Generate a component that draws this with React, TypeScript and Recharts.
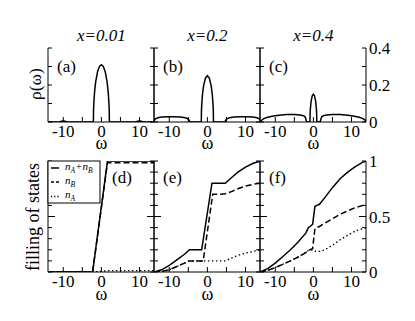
import React from 'react';
import { LineChart, Line, XAxis, YAxis } from 'recharts';

// top row: density of states rho(omega)
const omegaA = [-14, -11, -10.5, -10, -9.5, -9, -2.1, -2.05, -2, -1.8, -1.5, -1, -0.5, 0, 0.5, 1, 1.5, 1.8, 2, 2.05, 2.1, 9, 9.5, 10, 10.5, 11, 14];
const rhoA = [0, 0, 0.004, 0.005, 0.004, 0, 0, 0.067, 0.095, 0.16, 0.217, 0.272, 0.301, 0.31, 0.301, 0.272, 0.217, 0.16, 0.095, 0.067, 0, 0, 0.004, 0.005, 0.004, 0, 0];

const omegaB = [-14, -13.9, -13.6, -13, -12, -10, -9, -7, -5.8, -5.2, -4.8, -4.6, -1.6, -1.55, -1.5, -1.3, -1, -0.5, 0, 0.5, 1, 1.3, 1.5, 1.55, 1.6, 4.6, 4.8, 5.2, 5.8, 7, 9, 10, 12, 13, 13.6, 13.9, 14];
const rhoB = [0, 0.01, 0.017, 0.023, 0.027, 0.029, 0.029, 0.027, 0.023, 0.018, 0.01, 0, 0, 0.062, 0.087, 0.146, 0.195, 0.237, 0.25, 0.237, 0.195, 0.146, 0.087, 0.062, 0, 0, 0.01, 0.018, 0.023, 0.027, 0.029, 0.029, 0.027, 0.023, 0.017, 0.01, 0];

const omegaC = [-14, -13.7, -13, -12, -10.5, -9, -7, -5, -3.5, -2.6, -2.2, -1.95, -1.8, -0.9, -0.85, -0.8, -0.6, -0.3, 0, 0.3, 0.6, 0.8, 0.85, 0.9, 1.8, 1.95, 2.2, 2.6, 3.5, 5, 7, 9, 10.5, 12, 13, 13.7, 14];
const rhoC = [0, 0.008, 0.018, 0.026, 0.033, 0.037, 0.04, 0.04, 0.038, 0.034, 0.028, 0.015, 0, 0, 0.049, 0.069, 0.112, 0.141, 0.15, 0.141, 0.112, 0.069, 0.049, 0, 0, 0.015, 0.028, 0.034, 0.038, 0.04, 0.04, 0.037, 0.033, 0.026, 0.018, 0.008, 0];

// bottom row: filling of states
const omegaD = [-14, -2.3, 1.6, 14];
const totD = [0, 0, 1, 1];
const nbD = [0, 0, 0.985, 0.985];
const naD = [0, 0, 0.012, 0.012];

const omegaE = [-14, -12, -10, -8, -6, -4.7, -3, -1.5, -1.1, 1.2, 1.4, 3, 4.7, 6, 8, 10, 12, 14];
const totE = [0, 0.02, 0.06, 0.11, 0.16, 0.2, 0.2, 0.2, 0.29, 0.8, 0.8, 0.8, 0.8, 0.84, 0.9, 0.945, 0.98, 1];
const nbE = [0, 0.005, 0.02, 0.05, 0.08, 0.1, 0.1, 0.1, 0.1, 0.652, 0.7, 0.7, 0.705, 0.72, 0.75, 0.775, 0.79, 0.8];
const naE = [0, 0.005, 0.02, 0.05, 0.08, 0.1, 0.1, 0.1, 0.1, 0.1, 0.1, 0.1, 0.1, 0.12, 0.15, 0.17, 0.185, 0.2];

const omegaF = [-14, -12, -10, -8, -6, -4, -2, -1.3, -0.9, -0.2, 0.4, 0.9, 1.6, 3, 5, 7, 9, 11, 13, 14];
const totF = [0, 0.03, 0.08, 0.14, 0.2, 0.27, 0.35, 0.4, 0.41, 0.43, 0.59, 0.6, 0.61, 0.67, 0.76, 0.84, 0.9, 0.95, 0.99, 1];
const nbF = [0, 0.015, 0.04, 0.07, 0.1, 0.135, 0.175, 0.195, 0.2, 0.21, 0.39, 0.4, 0.41, 0.44, 0.48, 0.52, 0.55, 0.58, 0.6, 0.605];
const naF = [0, 0.015, 0.04, 0.07, 0.1, 0.135, 0.175, 0.195, 0.2, 0.2, 0.19, 0.185, 0.185, 0.2, 0.24, 0.29, 0.33, 0.37, 0.39, 0.4];

const xTicks = [-10, -5, 0, 5, 10];
const xLabels = [-10, 0, 10];
const rhoTicks = [0, 0.1, 0.2, 0.3, 0.4];
const rhoLabels = [0, 0.2, 0.4];
const fillTicks = [0, 0.1, 0.2, 0.3, 0.4, 0.5, 0.6, 0.7, 0.8, 0.9, 1];
const fillLabels = [0, 0.5, 1];
const titles = ['x=0.01', 'x=0.2', 'x=0.4'];
const topLetters = ['(a)', '(b)', '(c)'];
const bottomLetters = ['(d)', '(e)', '(f)'];

const FONT = 'Liberation Serif';
const COL_LEFT = [48, 154, 260];
const PLOT_W = 106;
const ROWS = [{ top: 48, h: 74 }, { top: 161, h: 111 }];
const TOP_PAD = 12;
const X_DOMAIN: [number, number] = [-14, 13.8];
const zeroX = (col: number) => COL_LEFT[col] + (PLOT_W * -X_DOMAIN[0]) / (X_DOMAIN[1] - X_DOMAIN[0]);

const rhoData = (w: number[], r: number[]) => w.map((v, i) => ({ w: v, rho: r[i] }));
const fillData = (w: number[], t: number[], b: number[], a: number[]) =>
  w.map((v, i) => ({ w: v, tot: t[i], nb: b[i], na: a[i] }));

const topData = [rhoData(omegaA, rhoA), rhoData(omegaB, rhoB), rhoData(omegaC, rhoC)];
const bottomData = [
  fillData(omegaD, totD, nbD, naD),
  fillData(omegaE, totE, nbE, naE),
  fillData(omegaF, totF, nbF, naF),
];

const rhoSeries = [{ key: 'rho', dash: undefined, width: 1.5 }];
const fillSeries = [
  { key: 'na', dash: '1.5 2.5', width: 1.3 },
  { key: 'nb', dash: '6 3', width: 1.5 },
  { key: 'tot', dash: undefined, width: 1.5 },
];

const renderXTick = (p: any) => {
  const { x, y, payload } = p;
  return (
    <g>
      <line x1={x} y1={y} x2={x} y2={y - 5} stroke="#000" />
      {xLabels.includes(payload.value) && (
        <text x={x} y={y + 15} textAnchor="middle" fontSize={17} fontFamily={FONT} fill="#000">
          {payload.value}
        </text>
      )}
    </g>
  );
};

const Panel = ({ col, row, data, series }: any) => {
  const { top, h } = ROWS[row];
  const last = col === 2;
  const rightW = last ? 40 : 20;
  const yTicks = row === 0 ? rhoTicks : fillTicks;
  const labels = row === 0 ? rhoLabels : fillLabels;
  const domain = row === 0 ? [0, 0.4] : [0, 1];
  const tickLen = (v: number) => (row === 1 && v === 0.5 ? 7 : 4);

  const leftTick = (p: any) => (
    <line x1={p.x} y1={p.y} x2={p.x + tickLen(p.payload.value)} y2={p.y} stroke="#000" />
  );
  const rightTick = (p: any) => (
    <g>
      <line x1={p.x} y1={p.y} x2={p.x - tickLen(p.payload.value)} y2={p.y} stroke="#000" />
      {last && labels.includes(p.payload.value) && (
        <text x={p.x + 3} y={p.y + 6} fontSize={17} fontFamily={FONT} fill="#000">
          {p.payload.value}
        </text>
      )}
    </g>
  );

  return (
    <div style={{ position: 'absolute', left: COL_LEFT[col] - 20, top: top - TOP_PAD }}>
      <LineChart
        width={20 + PLOT_W + rightW}
        height={TOP_PAD + h + 36}
        data={data}
        margin={{ top: TOP_PAD, right: 0, bottom: 0, left: 0 }}
      >
        <XAxis
          dataKey="w"
          type="number"
          domain={X_DOMAIN}
          ticks={xTicks}
          interval={0}
          allowDataOverflow
          height={36}
          tickSize={0}
          tickMargin={0}
          tickLine={false}
          axisLine={{ stroke: '#000' }}
          tick={renderXTick}
        />
        <XAxis
          xAxisId="top"
          orientation="top"
          dataKey="w"
          type="number"
          domain={X_DOMAIN}
          allowDataOverflow
          height={0}
          tick={false}
          tickLine={false}
          axisLine={{ stroke: '#000' }}
        />
        <YAxis
          yAxisId="l"
          type="number"
          domain={domain}
          ticks={yTicks}
          interval={0}
          allowDataOverflow
          width={20}
          tickSize={0}
          tickMargin={0}
          tickLine={false}
          axisLine={{ stroke: '#000' }}
          tick={leftTick}
        />
        <YAxis
          yAxisId="r"
          orientation="right"
          type="number"
          domain={domain}
          ticks={yTicks}
          interval={0}
          allowDataOverflow
          width={rightW}
          tickSize={0}
          tickMargin={0}
          tickLine={false}
          axisLine={{ stroke: '#000' }}
          tick={rightTick}
        />
        {series.map((s: any) => (
          <Line
            key={s.key}
            yAxisId="l"
            dataKey={s.key}
            type="linear"
            stroke="#000"
            strokeWidth={s.width}
            strokeDasharray={s.dash}
            dot={false}
            activeDot={false}
            isAnimationActive={false}
          />
        ))}
      </LineChart>
    </div>
  );
};

export default function App() {
  return (
    <div style={{ position: 'absolute', left: 0, top: 0, width: 415, height: 321, background: '#fff' }}>
      {topData.map((d, i) => (
        <Panel key={`t${i}`} col={i} row={0} data={d} series={rhoSeries} />
      ))}
      {bottomData.map((d, i) => (
        <Panel key={`b${i}`} col={i} row={1} data={d} series={fillSeries} />
      ))}
      <svg
        width={415}
        height={321}
        style={{ position: 'absolute', left: 0, top: 0, pointerEvents: 'none' }}
        fill="#000"
      >
        {titles.map((t, i) => (
          <text key={t} x={zeroX(i)} y={41} textAnchor="middle" fontSize={17} fontStyle="italic" fontFamily={FONT}>
            {t}
          </text>
        ))}
        {topLetters.map((t, i) => (
          <text key={t} x={COL_LEFT[i] + 9} y={72} fontSize={17} fontFamily={FONT}>
            {t}
          </text>
        ))}
        {bottomLetters.map((t, i) => (
          <text key={t} x={i === 0 ? 112 : COL_LEFT[i] + 9} y={183} fontSize={17} fontFamily={FONT}>
            {t}
          </text>
        ))}
        {[0, 1, 2].map((i) => (
          <g key={`w${i}`}>
            <text x={zeroX(i)} y={149} textAnchor="middle" fontSize={18} fontFamily={FONT}>ω</text>
            <text x={zeroX(i)} y={300} textAnchor="middle" fontSize={18} fontFamily={FONT}>ω</text>
          </g>
        ))}
        <text x={41} y={84} transform="rotate(-90 41 84)" textAnchor="middle" fontSize={17.5} fontFamily={FONT}>
          ρ(ω)
        </text>
        <text x={39} y={217} transform="rotate(-90 39 217)" textAnchor="middle" fontSize={18} fontFamily={FONT}>
          filling of states
        </text>

        {/* legend of panel (d) */}
        <rect x={48} y={161} width={52} height={42} fill="#fff" stroke="#000" />
        <line x1={51} y1={168} x2={59} y2={168} stroke="#000" strokeWidth={1.5} />
        <line x1={51} y1={182} x2={60} y2={182} stroke="#000" strokeWidth={1.5} strokeDasharray="3 2" />
        <line x1={51} y1={196.5} x2={60} y2={196.5} stroke="#000" strokeWidth={1.3} strokeDasharray="1.2 2" />
        <text x={65} y={170} fontSize={11} fontStyle="italic" fontFamily={FONT}>
          <tspan>n</tspan>
          <tspan dy={2.5} fontSize={7.5}>A</tspan>
          <tspan dy={-2.5}>+n</tspan>
          <tspan dy={2.5} fontSize={7.5}>B</tspan>
        </text>
        <text x={65} y={184} fontSize={11} fontStyle="italic" fontFamily={FONT}>
          <tspan>n</tspan>
          <tspan dy={2.5} fontSize={7.5}>B</tspan>
        </text>
        <text x={65} y={198} fontSize={11} fontStyle="italic" fontFamily={FONT}>
          <tspan>n</tspan>
          <tspan dy={2.5} fontSize={7.5}>A</tspan>
        </text>
      </svg>
    </div>
  );
}
